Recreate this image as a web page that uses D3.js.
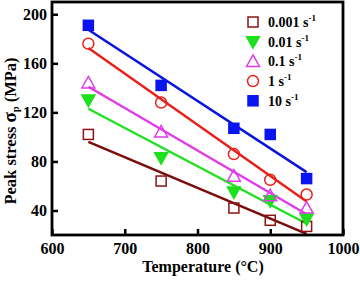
<!DOCTYPE html>
<html>
<head>
<meta charset="utf-8">
<script src="https://cdn.jsdelivr.net/npm/d3@7"></script>
<style>
  body { margin: 0; background: #fff; }
  text { font-family: "Liberation Serif", "Times New Roman", serif; font-weight: bold; fill: #000; }
</style>
</head>
<body>
<div id="chart"></div>
<script>
// data
const temps = [650, 750, 850, 900, 950];
const rateLabels = ["0.001", "0.01", "0.1", "1", "10"];
const s0001 = [102, 64, 42, 32, 27];
const s001 = [130, 83, 55, 48, 33];
const s01 = [144, 104, 68, 52, 42];
const s1 = [176, 128, 86, 65, 53];
const s10 = [191, 142, 107, 102, 66];
const xTicks = [600, 700, 800, 900, 1000];
const yTicks = [40, 80, 120, 160, 200];

const series = [
  {name: rateLabels[0], vals: s0001, color: "#8b1414", line: "#7a0c0c", shape: "square", fill: false},
  {name: rateLabels[1], vals: s001, color: "#1ee01e", line: "#22e022", shape: "down", fill: true},
  {name: rateLabels[2], vals: s01, color: "#e03ce8", line: "#e03ce8", shape: "up", fill: false},
  {name: rateLabels[3], vals: s1, color: "#e8201a", line: "#e8201a", shape: "circle", fill: false},
  {name: rateLabels[4], vals: s10, color: "#0a14f0", line: "#0a14e0", shape: "square", fill: true}
];

const W = 360, H = 281;
const margin = {top: 2, right: 17, bottom: 46, left: 52};
const width = W - margin.left - margin.right,
      height = H - margin.top - margin.bottom;

const svg = d3.select("#chart").append("svg")
    .attr("width", W).attr("height", H)
  .append("g")
    .attr("transform", `translate(${margin.left},${margin.top})`);

const x = d3.scaleLinear().domain([600, 1000]).range([0, width]);
const y = d3.scaleLinear().domain([20, 210]).range([height, 0]);

// fit lines (least squares, as in the original figure)
function fit(vals) {
  const mx = d3.mean(temps), my = d3.mean(vals);
  let sxy = 0, sxx = 0;
  temps.forEach((t, i) => { sxy += (t - mx) * (vals[i] - my); sxx += (t - mx) ** 2; });
  const b = sxy / sxx;
  return t => my + b * (t - mx);
}

series.forEach(s => {
  const f = fit(s.vals);
  svg.append("line")
    .attr("x1", x(650)).attr("y1", y(f(650)))
    .attr("x2", x(950)).attr("y2", y(f(950)))
    .attr("stroke", s.line).attr("stroke-width", 2.5);
});

function marker(g, shape, color, fill) {
  let el;
  if (shape === "square") {
    el = g.append("rect").attr("x", -5).attr("y", -5).attr("width", 10).attr("height", 10);
  } else if (shape === "circle") {
    el = g.append("circle").attr("r", 5.5);
  } else if (shape === "up") {
    el = g.append("path").attr("d", "M0,-6.5L6.5,5L-6.5,5Z");
  } else {
    el = g.append("path").attr("d", "M0,6.5L6.5,-5L-6.5,-5Z");
  }
  el.attr("fill", fill ? color : "none").attr("stroke", color).attr("stroke-width", 1.5);
}

series.forEach(s => {
  s.vals.forEach((v, i) => {
    const g = svg.append("g").attr("transform", `translate(${x(temps[i])},${y(v)})`);
    marker(g, s.shape, s.color, s.fill);
  });
});

// axes with inward ticks
const xAxis = svg.append("g").attr("transform", `translate(0,${height})`)
  .call(d3.axisBottom(x).tickValues(xTicks).tickFormat(d3.format("d"))
    .tickSizeInner(-6).tickSizeOuter(0).tickPadding(8));
const yAxis = svg.append("g")
  .call(d3.axisLeft(y).tickValues(yTicks).tickFormat(d3.format("d"))
    .tickSizeInner(-6).tickSizeOuter(0).tickPadding(5));
[xAxis, yAxis].forEach(a => {
  a.select(".domain").remove();
  a.selectAll(".tick line").attr("stroke", "#000").attr("stroke-width", 2.5);
  a.selectAll("text").style("font-size", "16px").style("font-family", "'Liberation Serif', serif").style("font-weight", "bold");
});

// frame
svg.append("rect").attr("x", 0).attr("y", 0).attr("width", width).attr("height", height)
  .attr("fill", "none").attr("stroke", "#000").attr("stroke-width", 2.8);

// legend
const leg = svg.append("g").attr("transform", "translate(201,20)");
series.forEach((s, i) => {
  const g = leg.append("g").attr("transform", `translate(0,${i * 19.7})`);
  marker(g, s.shape, s.color, s.fill);
  const t = g.append("text").attr("x", 15).attr("y", 5).style("font-size", "14px");
  t.append("tspan").text(s.name + " s");
  t.append("tspan").attr("dy", -6).style("font-size", "9px").text("-1");
});

// axis titles
svg.append("text")
  .attr("x", 151).attr("y", height + 37)
  .attr("text-anchor", "middle").style("font-size", "16px")
  .text("Temperature  (\u00B0C)");

const yl = svg.append("text")
  .attr("transform", `translate(${-36},${129}) rotate(-90)`)
  .attr("text-anchor", "middle").style("font-size", "16.5px");
yl.append("tspan").text("Peak stress ");
yl.append("tspan").style("font-size", "19px").text("\u03C3");
yl.append("tspan").attr("dy", 3).style("font-size", "10px").text("p");
yl.append("tspan").attr("dy", -3).text(" (MPa)");
</script>
</body>
</html>
